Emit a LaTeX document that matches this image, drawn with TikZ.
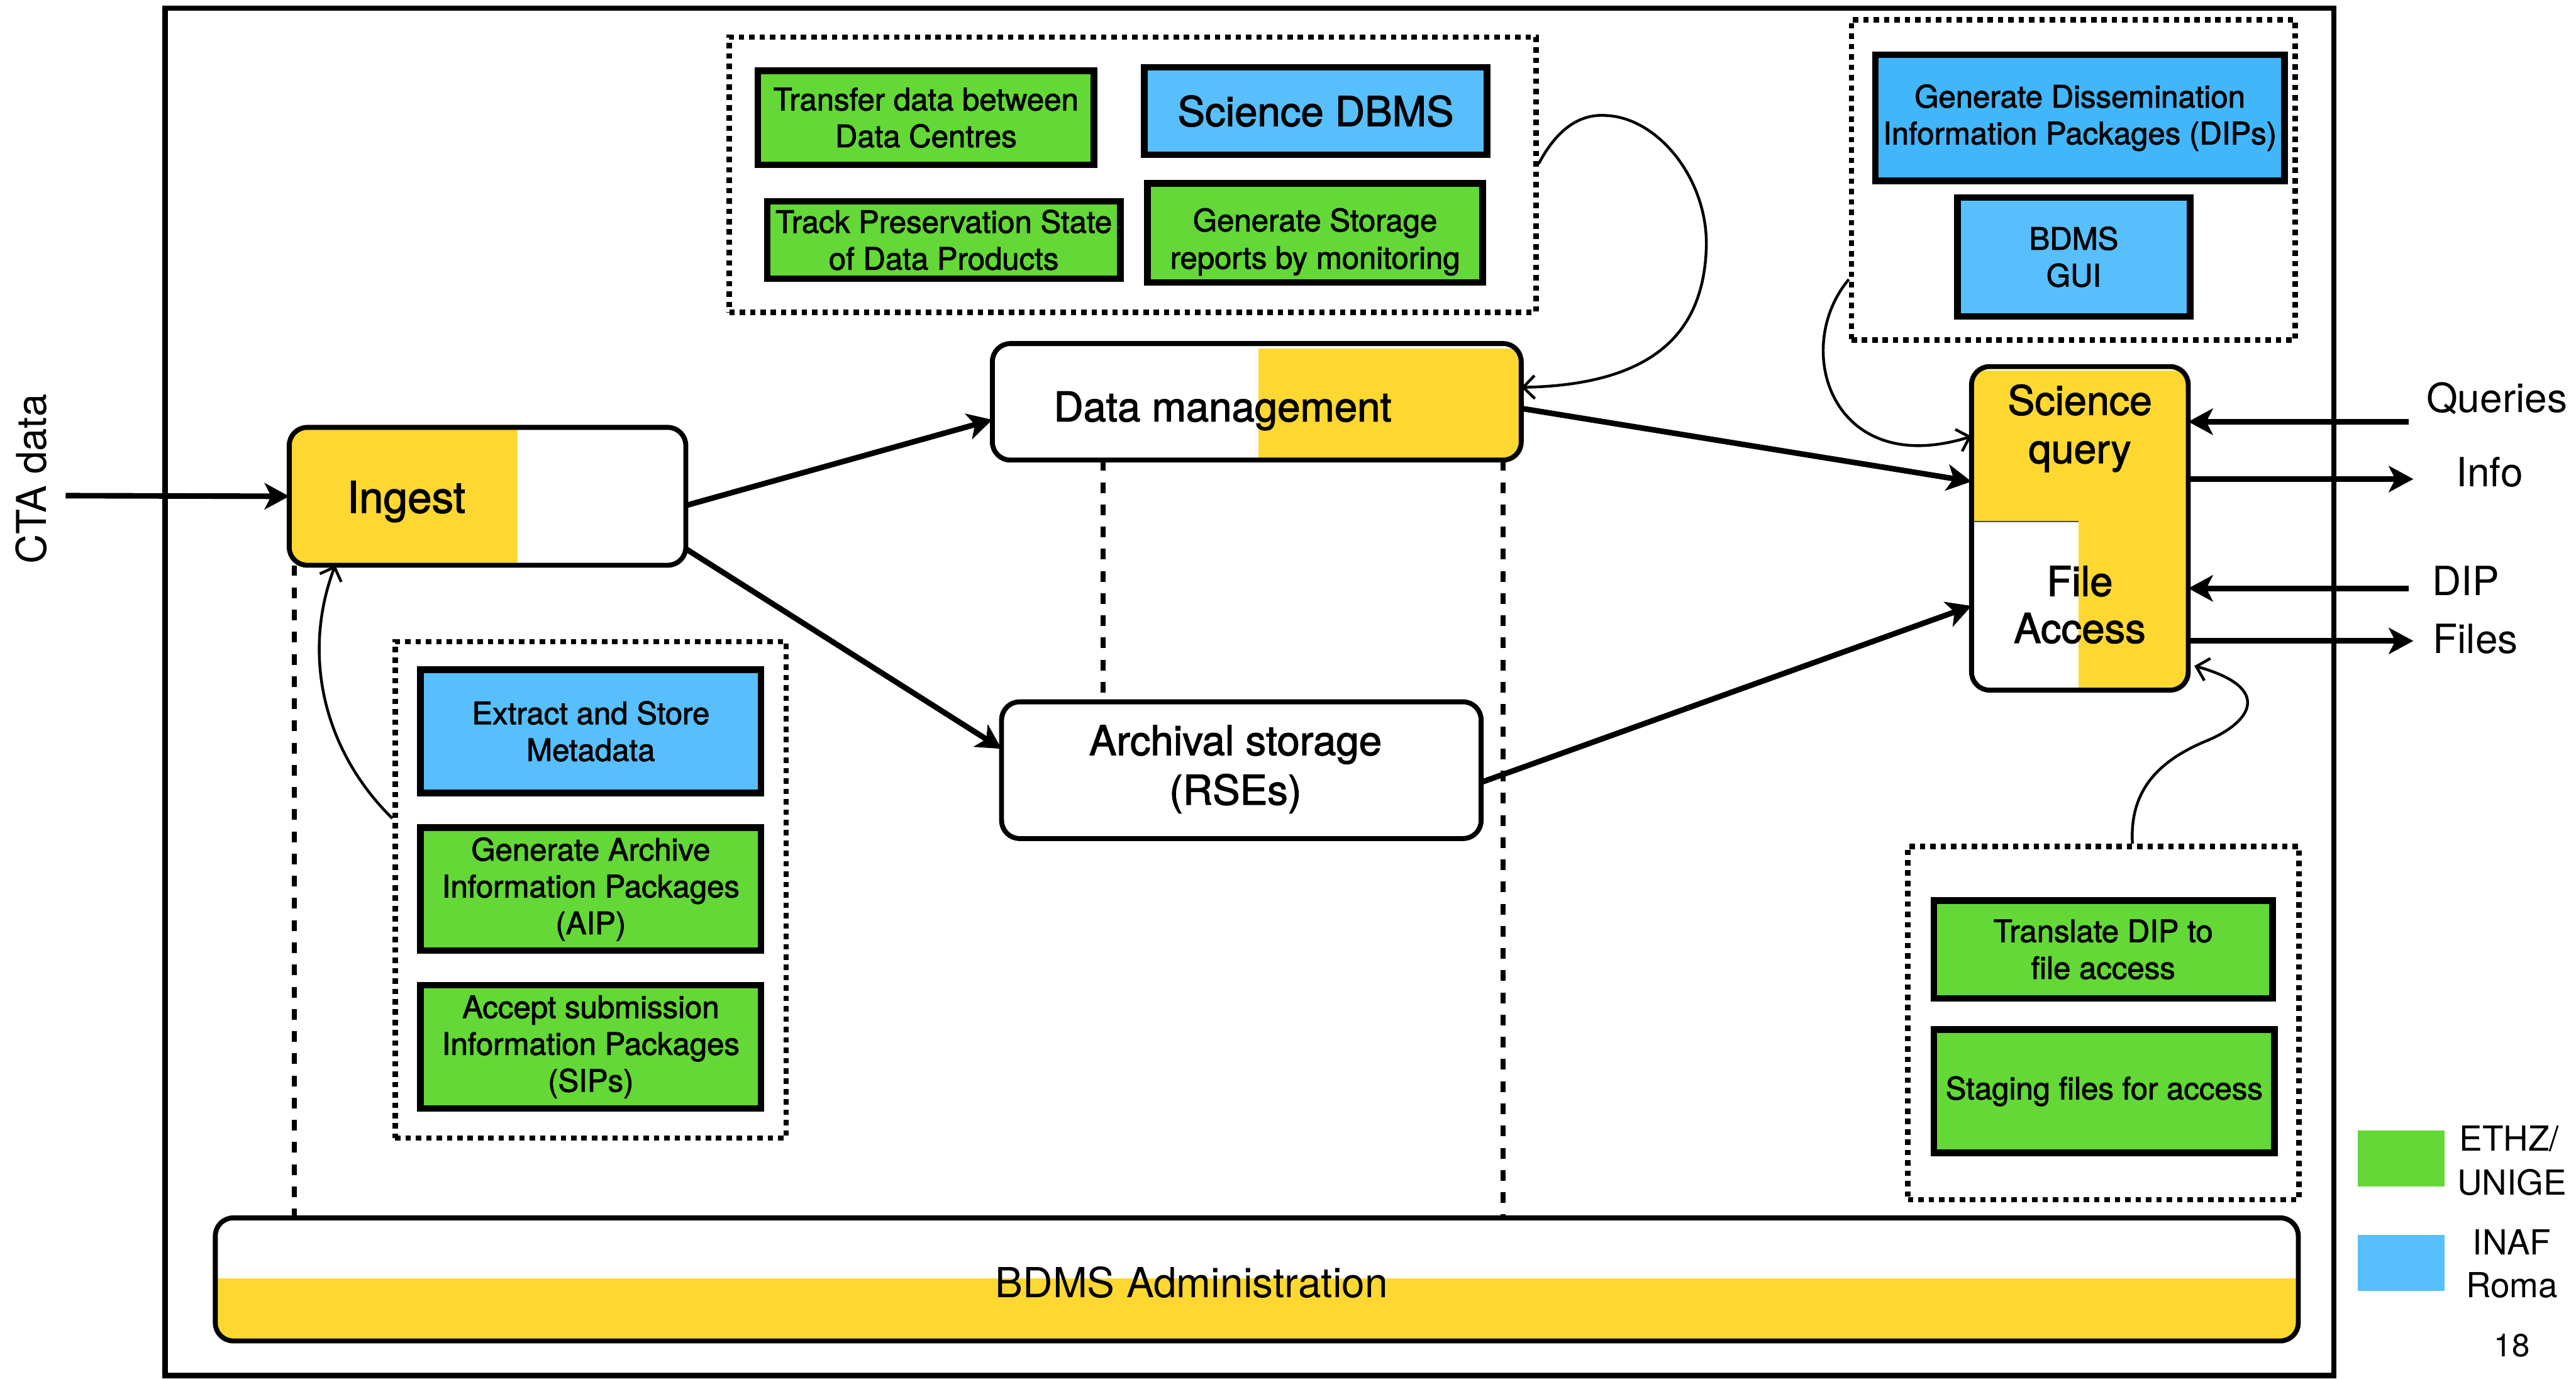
\documentclass[tikz,border=0pt]{standalone}
\usepackage{fontspec}
\setmainfont{TeX Gyre Heros}
\newfontfamily\medfont[FakeBold=1.8]{TeX Gyre Heros}
\usetikzlibrary{arrows.meta,calc}
\definecolor{ethz}{HTML}{63D836}
\definecolor{inaf}{HTML}{57BFFC}
\definecolor{inafdeep}{HTML}{41B6FA}
\definecolor{hl}{HTML}{FED831}

\begin{document}
\begin{tikzpicture}[x=1pt,y=-1pt,
  task/.style={draw, line width=4pt, inner sep=0pt, align=center,
    font=\medfont\fontsize{18.8}{22.4}\selectfont},
  greentask/.style={task, fill=ethz},
  bluetask/.style={task, fill=inaf},
  tasktext/.style={inner sep=0pt, align=center, font=\medfont\fontsize{18.8}{22.8}\selectfont},
  group/.style={draw, line width=3.3pt, dash pattern=on 3.3pt off 3pt, inner sep=0pt},
  stage/.style={inner sep=0pt},
  stageline/.style={line width=3pt, rounded corners=11pt},
  stagetext/.style={inner sep=0pt, anchor=base, font=\medfont\fontsize{25}{29}\selectfont},
  flow/.style={line width=3.4pt, -{Stealth[length=15pt,width=16pt,inset=4pt]}},
  link/.style={line width=1.7pt, -{Straight Barb[length=7pt,width=14pt]}},
  guide/.style={line width=3.1pt, dash pattern=on 6.5pt off 7pt},
  lbl/.style={inner sep=0pt, anchor=base, font=\fontsize{24.5}{28}\selectfont},
  keytext/.style={inner sep=0pt, anchor=base, font=\fontsize{21}{25}\selectfont},
]
\useasboundingbox (0,0) rectangle (1568,839);

% outer frame of the BDMS
\node[draw, line width=3.2pt, minimum width=1320pt, minimum height=832pt, inner sep=0pt] (frame) at (760.5,421) {};

% ---- data management tasks ----
\node[greentask, minimum width=204.6pt, minimum height=57.3pt] (transfer) at (563.6,71.65) {Transfer data between\\Data Centres};
\node[bluetask, minimum width=208.7pt, minimum height=53.2pt, font=\medfont\fontsize{25}{28}\selectfont] (sdbms) at (800.85,67.6) {Science DBMS};
\node[greentask, minimum width=214.9pt, minimum height=47pt] (track) at (574.45,146) {Track Preservation State\\of Data Products};
\node[greentask, minimum width=204pt, minimum height=60.3pt] (storage) at (800.5,141.65) {};
\node[tasktext] (storagelbl) at ($(storage)+(0,5.5)$) {Generate Storage\\reports by monitoring};
\node[group, minimum width=491pt, minimum height=167.4pt] (mgmtgroup) at (689.4,106.3) {};

% ---- dissemination tasks ----
\node[task, fill=inafdeep, minimum width=249pt, minimum height=76.9pt] (gendip) at (1266,71.65) {Generate Dissemination\\Information Packages (DIPs)};
\node[bluetask, minimum width=141.6pt, minimum height=72.4pt] (gui) at (1262.3,156.3) {BDMS\\GUI};
\node[group, minimum width=270pt, minimum height=195pt] (dipgroup) at (1262,109.5) {};

% ---- ingest tasks ----
\node[bluetask, minimum width=207.4pt, minimum height=75pt] (extract) at (359.6,445) {Extract and Store\\Metadata};
\node[greentask, minimum width=207.4pt, minimum height=75pt] (aip) at (359.6,541) {Generate Archive\\Information Packages\\(AIP)};
\node[greentask, minimum width=207.4pt, minimum height=75pt] (sip) at (359.6,637) {Accept submission\\Information Packages\\(SIPs)};
\node[group, minimum width=238pt, minimum height=302pt] (ingestgroup) at (359.5,541.5) {};

% ---- access tasks ----
\node[greentask, minimum width=206pt, minimum height=59.5pt] (translate) at (1280.2,577.75) {Translate DIP to\\file access};
\node[greentask, minimum width=207.4pt, minimum height=75pt] (staging) at (1280.8,664) {Staging files for access};
\node[group, minimum width=238pt, minimum height=215pt] (stagegroup) at (1280.3,622.5) {};

% ---- main stages ----
\node[stage, minimum width=241pt, minimum height=83.5pt] (ingest) at (296.75,302) {};
\node[stage, minimum width=321.5pt, minimum height=70.5pt] (dm) at (765,244.5) {};
\node[stage, minimum width=291.5pt, minimum height=82.8pt] (arch) at (755.6,468.65) {};
\node[stage, minimum width=131.5pt, minimum height=196.5pt] (sq) at (1266,321.5) {};
\node[stage, minimum width=1267.5pt, minimum height=74.5pt] (admin) at (765,778.5) {};

% yellow highlights, kept inside the rounded outlines
\begin{scope}
  \clip[rounded corners=11pt] (ingest.north west) rectangle (ingest.south east);
  \fill[hl] (ingest.north west) rectangle (315,344);
\end{scope}
\begin{scope}
  \clip[rounded corners=11pt] (dm.north west) rectangle (dm.south east);
  \fill[hl] (766,212) rectangle (dm.south east);
\end{scope}
\begin{scope}
  \clip[rounded corners=11pt] (sq.north west) rectangle (sq.south east);
  \fill[hl] (1199,225.5) rectangle (1331,317.5);
  \fill[hl] (1265,317.5) rectangle (1331,419);
\end{scope}
\begin{scope}
  \clip[rounded corners=11pt] (admin.north west) rectangle (admin.south east);
  \fill[hl] (admin.west |- 0,778) rectangle (admin.south east);
\end{scope}
\draw[line width=0.8pt, black!70] (1201,317.5) -- (1265,317.5);

\foreach \s in {ingest,dm,arch,sq,admin}
  \draw[stageline] (\s.north west) rectangle (\s.south east);

% stage labels
\node[stagetext, font=\medfont\fontsize{26.5}{30}\selectfont] (ingestlbl) at (247.3,312) {Ingest};
\node[stagetext] (dmlbl) at (744.2,256.4) {Data management};
\node[stagetext] (archlbl) at (752,459.5) {Archival storage};
\node[stagetext] (archlbl2) at (752,489.6) {(RSEs)};
\node[stagetext, font=\medfont\fontsize{24.7}{29}\selectfont] (sqlbl) at (1266,252.4) {Science};
\node[stagetext, font=\medfont\fontsize{24.7}{29}\selectfont] (sqlbl2) at (1266,281.8) {query};
\node[stagetext] (falbl) at (1265.9,362.6) {File};
\node[stagetext] (falbl2) at (1265.9,391.2) {Access};
\node[lbl, font=\fontsize{25.2}{29}\selectfont] (adminlbl) at (725.3,789.4) {BDMS Administration};

% dependency guides
\coordinate (g1) at ($(ingest.south west)+(3pt,0)$);
\coordinate (g2) at ($(dm.south west)+(67.25pt,0)$);
\coordinate (g3) at ($(dm.south west)+(310.75pt,0)$);
\draw[guide] (g1) -- (g1 |- admin.north);
\draw[guide] (g2) -- (g2 |- arch.north);
\draw[guide] (g3) -- (g3 |- admin.north);

% main data flow
\node[lbl, rotate=90, font=\fontsize{25}{29}\selectfont] (cta) at (28.2,291.5) {CTA data};
\coordinate (ctain) at (40,301.6);
\draw[flow] (ctain) -- (ingest.west);
\draw[flow] ([yshift=-5.6pt]ingest.east) -- ([yshift=-10.9pt]dm.west);
\draw[flow] ([yshift=10pt]ingest.south east) -- ([yshift=13pt]arch.west);
\draw[flow] ([yshift=-4pt]dm.east) -- ([yshift=28.5pt]sq.west);
\draw[flow] ([yshift=-7.4pt]arch.east) -- ([yshift=-47.2pt]sq.west);

% external interfaces
\coordinate (qsrc) at (1466,256.6);
\coordinate (idst) at (1469,291.5);
\coordinate (dsrc) at (1466,358);
\coordinate (fdst) at (1469,390);
\draw[flow] (qsrc) -- ([yshift=64.9pt]sq.east);
\draw[flow] ([yshift=30pt]sq.east) -- (idst);
\draw[flow] (dsrc) -- ([yshift=-36.5pt]sq.east);
\draw[flow] ([yshift=-68.5pt]sq.east) -- (fdst);
\node[lbl] (queries) at (1519.8,251) {Queries};
\node[lbl] (info) at (1515.4,296) {Info};
\node[lbl] (dip) at (1501,362.3) {DIP};
\node[lbl] (files) at (1506.8,397.4) {Files};

% task groups feeding the stages
\draw[link] ([yshift=43.5pt]ingestgroup.west) .. controls (198,458) and (183,400) .. ([xshift=28pt]ingest.south west);
\draw[link] ([yshift=6.6pt]mgmtgroup.east) .. controls (948,78) and (962,69) .. (978,70.3)
  .. controls (1010,72) and (1040,110) .. (1038.6,151)
  .. controls (1037,195) and (1015,234) .. ([yshift=8.8pt]dm.east);
\draw[link] ([yshift=-60.5pt]dipgroup.west) .. controls (1090,212) and (1115,292) .. ([yshift=56pt]sq.west);
\draw[link] ([xshift=17.7pt]stagegroup.north) .. controls (1296,480) and (1315,462) .. (1345,450)
  .. controls (1372,438) and (1382,418) .. ([xshift=3.75pt,yshift=14.75pt]sq.south east);

% key
\node[fill=ethz, minimum width=53pt, minimum height=34pt, inner sep=0pt] (keyg) at (1461.5,705) {};
\node[fill=inaf, minimum width=53pt, minimum height=34pt, inner sep=0pt] (keyb) at (1461.5,768.5) {};
\node[keytext] (k1) at (1527.4,700.3) {ETHZ/};
\node[keytext] (k2) at (1529,727) {UNIGE};
\node[keytext] (k3) at (1529,763.5) {INAF};
\node[keytext] (k4) at (1529,789.4) {Roma};
\node[keytext, font=\fontsize{19.5}{23}\selectfont] (pageno) at (1529,825.7) {18};
\end{tikzpicture}
\end{document}
